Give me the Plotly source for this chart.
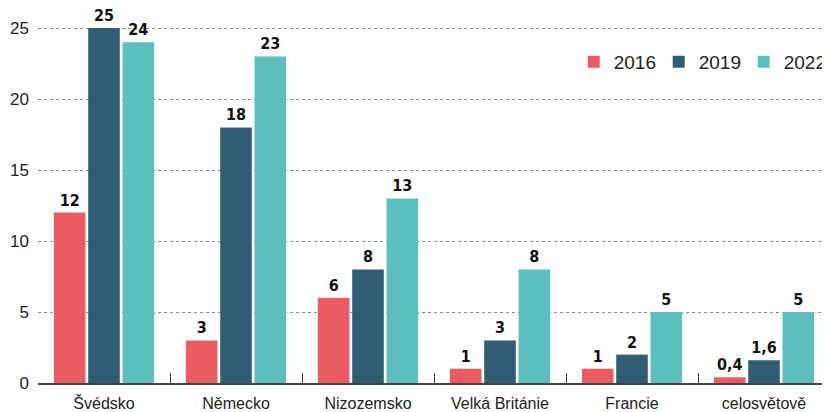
import plotly.graph_objects as go

categories = ["Švédsko", "Německo", "Nizozemsko", "Velká Británie", "Francie", "celosvětově"]
years = ["2016", "2019", "2022"]
values_2016 = [12, 3, 6, 1, 1, 0.4]
values_2019 = [25, 18, 8, 3, 2, 1.6]
values_2022 = [24, 23, 13, 8, 5, 5]
y_ticks = [0, 5, 10, 15, 20, 25]

colors = ["#E95C62", "#305D74", "#5DBFBD"]


def fmt(v):
    # czech decimal comma
    s = ("%g" % v)
    return "<b>" + s.replace(".", ",") + "</b>"


fig = go.Figure()
for year, vals, col in zip(years, [values_2016, values_2019, values_2022], colors):
    fig.add_trace(go.Bar(
        x=categories, y=vals, name=year,
        marker=dict(color=col, line=dict(width=0)),
        text=[fmt(v) for v in vals],
        textposition="outside",
        textfont=dict(family="DejaVu Sans Condensed", size=16, color="#111111"),
        cliponaxis=False,
    ))

# page body has an 8px margin, so the figure is a bit smaller than the window
fig.update_layout(
    width=822, height=404,
    margin=dict(l=30, r=0, t=0, b=29, autoexpand=False),
    plot_bgcolor="white", paper_bgcolor="white",
    barmode="group", bargap=0.22, bargroupgap=0.08,
    font=dict(family="Liberation Sans, Arial", size=16, color="#222222"),
    showlegend=True,
    legend=dict(orientation="h", x=0.6764, xanchor="left", y=0.856, yanchor="middle",
                font=dict(size=19), itemsizing="constant", traceorder="normal",
                entrywidth=40, tracegroupgap=0, borderwidth=0, bgcolor="rgba(0,0,0,0)"),
    xaxis=dict(showline=True, linecolor="#444444", linewidth=1.5,
               ticks="inside", tickson="boundaries", ticklen=10, tickcolor="#444444",
               tickfont=dict(size=16), showgrid=False, ticklabelstandoff=5),
    yaxis=dict(range=[0, 26.41], tickvals=y_ticks, showgrid=True, gridcolor="#888888",
               griddash="dot", gridwidth=1, zeroline=False, ticks="", ticklabelstandoff=8,
               tickfont=dict(size=17)),
)

fig.write_html("out.html")
